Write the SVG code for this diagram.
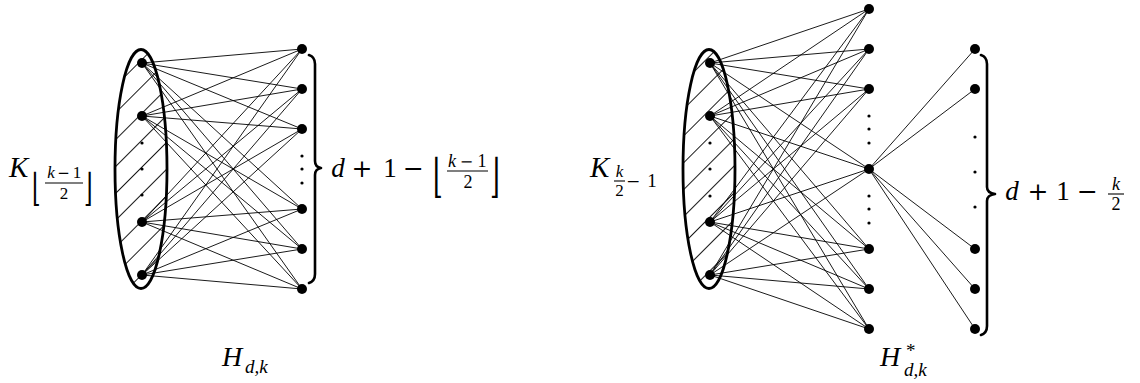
<svg xmlns="http://www.w3.org/2000/svg" width="1140" height="383" viewBox="0 0 1140 383">
<style>
.e{stroke:#000;stroke-width:0.9;fill:none}
.n{fill:#000}
.d{fill:#000}
.ell{fill:url(#hatch);stroke:#000;stroke-width:2.8}
.brace{fill:none;stroke:#000;stroke-width:2.6;stroke-linecap:round;stroke-linejoin:round}
text{font-family:'Liberation Serif','Times New Roman',serif;fill:#000;text-anchor:middle}
.it{font-style:italic}
.sym{font-family:'DejaVu Serif',serif}
.st{text-anchor:start}
.bar{stroke:#000;stroke-width:1.1}
</style>
<defs>
<pattern id="hatch" patternUnits="userSpaceOnUse" width="10" height="19" patternTransform="rotate(-45)">
<line x1="0" y1="9.5" x2="10" y2="9.5" stroke="#000" stroke-width="0.9"/>
</pattern>
</defs>
<rect width="1140" height="383" fill="#fff"/>

<g id="connectors">
<g id="edges-H">
<line class="e" x1="142" y1="63" x2="302" y2="49"/><line class="e" x1="142" y1="63" x2="302" y2="89"/><line class="e" x1="142" y1="63" x2="302" y2="129"/><line class="e" x1="142" y1="63" x2="302" y2="209"/><line class="e" x1="142" y1="63" x2="302" y2="249"/><line class="e" x1="142" y1="63" x2="302" y2="289"/>
<line class="e" x1="142" y1="116" x2="302" y2="49"/><line class="e" x1="142" y1="116" x2="302" y2="89"/><line class="e" x1="142" y1="116" x2="302" y2="129"/><line class="e" x1="142" y1="116" x2="302" y2="209"/><line class="e" x1="142" y1="116" x2="302" y2="249"/><line class="e" x1="142" y1="116" x2="302" y2="289"/>
<line class="e" x1="142" y1="222" x2="302" y2="49"/><line class="e" x1="142" y1="222" x2="302" y2="89"/><line class="e" x1="142" y1="222" x2="302" y2="129"/><line class="e" x1="142" y1="222" x2="302" y2="209"/><line class="e" x1="142" y1="222" x2="302" y2="249"/><line class="e" x1="142" y1="222" x2="302" y2="289"/>
<line class="e" x1="142" y1="275" x2="302" y2="49"/><line class="e" x1="142" y1="275" x2="302" y2="89"/><line class="e" x1="142" y1="275" x2="302" y2="129"/><line class="e" x1="142" y1="275" x2="302" y2="209"/><line class="e" x1="142" y1="275" x2="302" y2="249"/><line class="e" x1="142" y1="275" x2="302" y2="289"/>
</g>
<g id="edges-Hstar">
<line class="e" x1="710" y1="63" x2="869" y2="9"/><line class="e" x1="710" y1="63" x2="869" y2="49"/><line class="e" x1="710" y1="63" x2="869" y2="89"/><line class="e" x1="710" y1="63" x2="869" y2="169"/><line class="e" x1="710" y1="63" x2="869" y2="249"/><line class="e" x1="710" y1="63" x2="869" y2="289"/><line class="e" x1="710" y1="63" x2="869" y2="329"/>
<line class="e" x1="710" y1="116" x2="869" y2="9"/><line class="e" x1="710" y1="116" x2="869" y2="49"/><line class="e" x1="710" y1="116" x2="869" y2="89"/><line class="e" x1="710" y1="116" x2="869" y2="169"/><line class="e" x1="710" y1="116" x2="869" y2="249"/><line class="e" x1="710" y1="116" x2="869" y2="289"/><line class="e" x1="710" y1="116" x2="869" y2="329"/>
<line class="e" x1="710" y1="222" x2="869" y2="9"/><line class="e" x1="710" y1="222" x2="869" y2="49"/><line class="e" x1="710" y1="222" x2="869" y2="89"/><line class="e" x1="710" y1="222" x2="869" y2="169"/><line class="e" x1="710" y1="222" x2="869" y2="249"/><line class="e" x1="710" y1="222" x2="869" y2="289"/><line class="e" x1="710" y1="222" x2="869" y2="329"/>
<line class="e" x1="710" y1="275" x2="869" y2="9"/><line class="e" x1="710" y1="275" x2="869" y2="49"/><line class="e" x1="710" y1="275" x2="869" y2="89"/><line class="e" x1="710" y1="275" x2="869" y2="169"/><line class="e" x1="710" y1="275" x2="869" y2="249"/><line class="e" x1="710" y1="275" x2="869" y2="289"/><line class="e" x1="710" y1="275" x2="869" y2="329"/>
<line class="e" x1="869" y1="169" x2="975" y2="49"/><line class="e" x1="869" y1="169" x2="975" y2="89"/><line class="e" x1="869" y1="169" x2="975" y2="249"/><line class="e" x1="869" y1="169" x2="975" y2="289"/><line class="e" x1="869" y1="169" x2="975" y2="329"/>
</g>
</g>

<g id="clique-H">
<ellipse class="ell" cx="141" cy="169" rx="26" ry="119.5"/>
<circle class="d" cx="142" cy="143" r="1.6"/><circle class="d" cx="142" cy="169" r="1.6"/><circle class="d" cx="142" cy="195" r="1.6"/>
</g>
<g id="H-left-1"><circle class="n" cx="142" cy="63" r="5"/></g>
<g id="H-left-2"><circle class="n" cx="142" cy="116" r="5"/></g>
<g id="H-left-3"><circle class="n" cx="142" cy="222" r="5"/></g>
<g id="H-left-4"><circle class="n" cx="142" cy="275" r="5"/></g>
<g id="H-right-1"><circle class="n" cx="302" cy="49" r="5"/></g>
<g id="H-right-2"><circle class="n" cx="302" cy="89" r="5"/></g>
<g id="H-right-3"><circle class="n" cx="302" cy="129" r="5"/></g>
<g id="H-right-dots"><circle class="d" cx="302" cy="156" r="1.6"/><circle class="d" cx="302" cy="169" r="1.6"/><circle class="d" cx="302" cy="183" r="1.6"/></g>
<g id="H-right-4"><circle class="n" cx="302" cy="209" r="5"/></g>
<g id="H-right-5"><circle class="n" cx="302" cy="249" r="5"/></g>
<g id="H-right-6"><circle class="n" cx="302" cy="289" r="5"/></g>

<g id="brace-H">
<path class="brace" d="M309 55 Q315 57 315 64 L315 161 Q315 167 321 168 Q315 169 315 175 L315 274 Q315 281 309 283"/>
</g>

<g id="label-K1">
<text class="it st" x="9" y="177" font-size="29">K</text>
<text class="sym st" transform="translate(32,201) scale(1,1.75)" font-size="22">⌊</text>
<text class="it" x="51" y="178" font-size="17">k</text>
<text class="sym" x="63.5" y="178" font-size="15">−</text>
<text x="77" y="178" font-size="17">1</text>
<line class="bar" x1="45" y1="183" x2="83" y2="183"/>
<text x="64" y="199" font-size="17">2</text>
<text class="sym st" transform="translate(84,201) scale(1,1.75)" font-size="22">⌋</text>
</g>

<g id="label-size1">
<text class="it" x="338" y="177" font-size="27">d</text>
<text class="sym" x="362" y="177" font-size="25">+</text>
<text x="390" y="177" font-size="27">1</text>
<text class="sym" x="413.5" y="177" font-size="25">−</text>
<text class="sym st" transform="translate(433,192) scale(1,1.85)" font-size="25">⌊</text>
<text class="it" x="452" y="167" font-size="18">k</text>
<text class="sym" x="466.5" y="167" font-size="16">−</text>
<text x="482" y="167" font-size="18">1</text>
<line class="bar" x1="447" y1="171" x2="488" y2="171"/>
<text x="468" y="188" font-size="18">2</text>
<text class="sym st" transform="translate(490,192) scale(1,1.85)" font-size="25">⌋</text>
</g>

<g id="label-H">
<text class="it st" x="222" y="366" font-size="28">H</text>
<text class="it st" x="245" y="373" font-size="19">d,k</text>
</g>

<g id="clique-Hstar">
<ellipse class="ell" cx="709" cy="169" rx="26" ry="119.5"/>
<circle class="d" cx="710" cy="143" r="1.6"/><circle class="d" cx="710" cy="169" r="1.6"/><circle class="d" cx="710" cy="196" r="1.6"/>
</g>
<g id="S-left-1"><circle class="n" cx="710" cy="63" r="5"/></g>
<g id="S-left-2"><circle class="n" cx="710" cy="116" r="5"/></g>
<g id="S-left-3"><circle class="n" cx="710" cy="222" r="5"/></g>
<g id="S-left-4"><circle class="n" cx="710" cy="275" r="5"/></g>
<g id="S-mid-1"><circle class="n" cx="869" cy="9" r="5"/></g>
<g id="S-mid-2"><circle class="n" cx="869" cy="49" r="5"/></g>
<g id="S-mid-3"><circle class="n" cx="869" cy="89" r="5"/></g>
<g id="S-mid-dots1"><circle class="d" cx="869" cy="116" r="1.6"/><circle class="d" cx="869" cy="129" r="1.6"/><circle class="d" cx="869" cy="143" r="1.6"/></g>
<g id="S-mid-4"><circle class="n" cx="869" cy="169" r="5"/></g>
<g id="S-mid-dots2"><circle class="d" cx="869" cy="196" r="1.6"/><circle class="d" cx="869" cy="209" r="1.6"/><circle class="d" cx="869" cy="223" r="1.6"/></g>
<g id="S-mid-5"><circle class="n" cx="869" cy="249" r="5"/></g>
<g id="S-mid-6"><circle class="n" cx="869" cy="289" r="5"/></g>
<g id="S-mid-7"><circle class="n" cx="869" cy="329" r="5"/></g>
<g id="S-right-1"><circle class="n" cx="975" cy="49" r="5"/></g>
<g id="S-right-2"><circle class="n" cx="975" cy="89" r="5"/></g>
<g id="S-right-dots"><circle class="d" cx="975" cy="137" r="1.6"/><circle class="d" cx="975" cy="172" r="1.6"/><circle class="d" cx="975" cy="207" r="1.6"/></g>
<g id="S-right-3"><circle class="n" cx="975" cy="249" r="5"/></g>
<g id="S-right-4"><circle class="n" cx="975" cy="289" r="5"/></g>
<g id="S-right-5"><circle class="n" cx="975" cy="329" r="5"/></g>

<g id="brace-Hstar">
<path class="brace" d="M981 55 Q987 57 987 64 L987 187 Q987 193 995 194 Q987 195 987 201 L987 326 Q987 333 981 335"/>
</g>

<g id="label-K2">
<text class="it st" x="590" y="177" font-size="29">K</text>
<text class="it" x="619.5" y="177" font-size="17">k</text>
<line class="bar" x1="614" y1="181" x2="625" y2="181"/>
<text x="619.5" y="196" font-size="17">2</text>
<text class="sym" x="633" y="187" font-size="17">−</text>
<text x="652" y="187" font-size="19">1</text>
</g>

<g id="label-size2">
<text class="it" x="1012" y="200" font-size="27">d</text>
<text class="sym" x="1038" y="200" font-size="25">+</text>
<text x="1063" y="200" font-size="27">1</text>
<text class="sym" x="1087.5" y="200" font-size="25">−</text>
<text class="it" x="1116" y="190" font-size="18">k</text>
<line class="bar" x1="1108" y1="194" x2="1124" y2="194"/>
<text x="1116" y="210" font-size="18">2</text>
</g>

<g id="label-Hstar">
<text class="it st" x="880" y="366" font-size="28">H</text>
<text class="st" x="906" y="357" font-size="19">*</text>
<text class="it st" x="904" y="376" font-size="19">d,k</text>
</g>
</svg>
